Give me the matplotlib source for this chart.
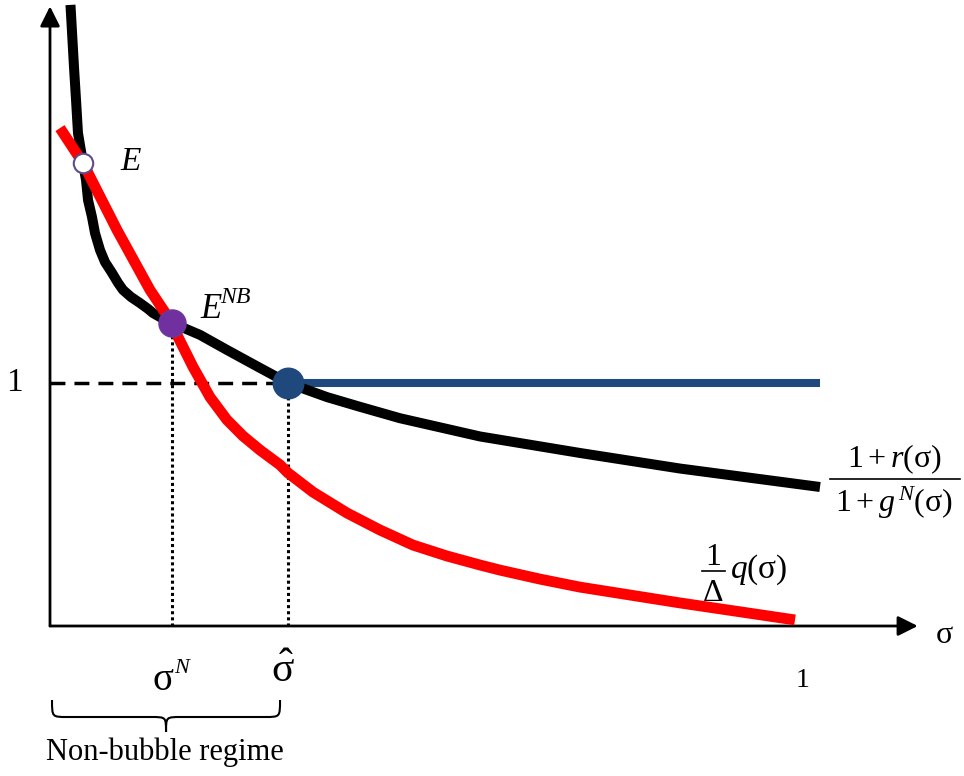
import matplotlib
matplotlib.use("Agg")
import matplotlib.pyplot as plt
from matplotlib.path import Path
from matplotlib.patches import PathPatch

plt.rcParams["font.family"] = ["Liberation Serif", "DejaVu Serif"]
plt.rcParams["mathtext.fontset"] = "custom"
plt.rcParams["mathtext.rm"] = "Liberation Serif"
plt.rcParams["mathtext.it"] = "Liberation Serif:italic"
plt.rcParams["mathtext.bf"] = "Liberation Serif:bold"

# (1 + r(sigma)) / (1 + g^N(sigma))
sigma_ratio = [0.0273, 0.032, 0.0347, 0.0373, 0.044, 0.048, 0.0507, 0.056,
               0.06, 0.0667, 0.0733, 0.0827, 0.0907, 0.0973, 0.108, 0.12,
               0.1307, 0.1373, 0.1493, 0.1627, 0.2, 0.236, 0.28, 0.3173,
               0.3693, 0.4133, 0.4667, 0.5733, 0.7067, 0.84, 1.0267]
ratio = [2.556, 2.300, 2.165, 2.029, 1.905, 1.835, 1.753, 1.683,
         1.617, 1.547, 1.498, 1.453, 1.412, 1.383, 1.354, 1.329,
         1.305, 1.288, 1.267, 1.247, 1.198, 1.136, 1.062, 1.0,
         0.942, 0.902, 0.855, 0.780, 0.712, 0.648, 0.572]

# q(sigma) / Delta
sigma_q = [0.0133, 0.044, 0.0893, 0.1333, 0.1627, 0.1693, 0.1907, 0.2133,
           0.236, 0.2573, 0.28, 0.3067, 0.3173, 0.3507, 0.396, 0.44, 0.484,
           0.5293, 0.5733, 0.6, 0.6533, 0.7067, 0.84, 0.9933]
q_over_delta = [2.049, 1.905, 1.630, 1.383, 1.247, 1.198, 1.066, 0.942,
                0.848, 0.782, 0.724, 0.663, 0.630, 0.551, 0.465, 0.395, 0.333,
                0.288, 0.251, 0.230, 0.193, 0.160, 0.095, 0.025]

# bubble branch: flat at 1 from sigma_hat onward
sigma_bubble = [0.3173, 1.0267]
bubble = [1.0, 1.0]

# equilibria
E = (0.044, 1.905)
E_NB = (0.1627, 1.247)
E_hat = (0.3173, 1.0)

fig = plt.figure(figsize=(9.64, 7.76), dpi=100)
ax = fig.add_axes([0, 0, 1, 1])
ax.set_xlim(-50 / 750, 914 / 750)
ax.set_ylim(-150 / 243, 626 / 243)
ax.axis("off")

# axes with arrow heads
arrow_kw = dict(arrowstyle="-|>,head_length=0.6,head_width=0.3",
                lw=2.0, color="black", shrinkA=0, shrinkB=0,
                mutation_scale=20)
ax.annotate("", xy=(0, 2.55), xytext=(0, 0), arrowprops=arrow_kw)
ax.annotate("", xy=(1.157, 0), xytext=(0, 0), arrowprops=arrow_kw)

# guides
ax.plot([0, E_hat[0]], [1, 1], color="black", lw=2.5, ls=(0, (4.3, 2.6)),
        dash_capstyle="butt", zorder=2)
ax.plot([E_NB[0], E_NB[0]], [0, E_NB[1]], color="black", lw=2.2,
        ls=(0, (1, 1)), dash_capstyle="butt", zorder=2)
ax.plot([E_hat[0], E_hat[0]], [0, E_hat[1]], color="black", lw=2.2,
        ls=(0, (1, 1)), dash_capstyle="butt", zorder=2)

# curves
ax.plot(sigma_bubble, bubble, color="#1F497D", lw=5.8, solid_capstyle="butt", zorder=3)
ax.plot(sigma_ratio, ratio, color="black", lw=7.2, solid_joinstyle="round",
        solid_capstyle="butt", zorder=4)
ax.plot(sigma_q, q_over_delta, color="#FF0000", lw=7.8, solid_joinstyle="round",
        solid_capstyle="butt", zorder=5)

# equilibrium points
ax.plot(*E, marker="o", ms=14, mfc="white", mec="#5F4B8B", mew=1.5, zorder=6)
ax.plot(*E_NB, marker="o", ms=19.5, mfc="#7030A0", mec="#6A3A9A", mew=1, zorder=6)
ax.plot(*E_hat, marker="o", ms=22, mfc="#1F497D", mec="#1F497D", zorder=6)

# point and axis labels
ax.text(-0.047, 1.0, "1", fontsize=24, ha="center", va="center")
ax.text(0.093, 1.91, r"$E$", fontsize=24, ha="left", va="center")
ax.text(0.2, 1.267, r"$E$", fontsize=25, ha="left", va="baseline")
ax.text(0.226, 1.33, r"$NB$", fontsize=17, ha="left", va="baseline")
ax.text(0.1507, -0.263, r"$\mathrm{\sigma}$", fontsize=28, ha="center", va="baseline")
ax.text(0.165, -0.193, r"$N$", fontsize=16, ha="left", va="baseline")
ax.text(0.311, -0.19, r"$\hat{\mathrm{\sigma}}$", fontsize=30, ha="center", va="center")
ax.text(1.003, -0.226, "1", fontsize=20, ha="center", va="center")
ax.text(1.193, -0.04, r"$\mathrm{\sigma}$", fontsize=23, ha="center", va="center")

# curve labels (fractions set by hand)
ax.text(1.1253, 0.654, r"$1+r(\mathrm{\sigma})$", fontsize=23, ha="center", va="baseline")
ax.text(1.1253, 0.469, r"$1+g^{\,N}(\mathrm{\sigma})$", fontsize=23, ha="center", va="baseline")
ax.plot([1.04, 1.2133], [0.605, 0.605], color="black", lw=1.2)

ax.text(0.884, 0.251, "1", fontsize=23, ha="center", va="baseline")
ax.plot([0.8693, 0.9], [0.226, 0.226], color="black", lw=1.2)
ax.text(0.884, 0.103, r"$\Delta$", fontsize=23, ha="center", va="baseline")
ax.text(0.9067, 0.198, r"$q(\mathrm{\sigma})$", fontsize=24, ha="left", va="baseline")

ax.text(0.1533, -0.518, "Non-bubble regime", fontsize=22, ha="center", va="center")


def curly_brace(ax, x0, x1, y_top, y_mid, y_tip, r):
    xm = (x0 + x1) / 2
    verts = [
        (x0, y_top), (x0, y_mid), (x0, y_mid), (x0 + r, y_mid),
        (xm - r, y_mid),
        (xm, y_mid), (xm, y_mid), (xm, y_tip),
        (xm, y_mid), (xm, y_mid), (xm + r, y_mid),
        (x1 - r, y_mid),
        (x1, y_mid), (x1, y_mid), (x1, y_top),
    ]
    codes = [Path.MOVETO, Path.CURVE4, Path.CURVE4, Path.CURVE4,
             Path.LINETO,
             Path.CURVE4, Path.CURVE4, Path.CURVE4,
             Path.CURVE4, Path.CURVE4, Path.CURVE4,
             Path.LINETO,
             Path.CURVE4, Path.CURVE4, Path.CURVE4]
    ax.add_patch(PathPatch(Path(verts, codes), fill=False, lw=1.5, color="black"))


curly_brace(ax, 0.0027, 0.3067, -0.3045, -0.3745, -0.4362, 0.02)

fig.savefig("out.png", dpi=100)
